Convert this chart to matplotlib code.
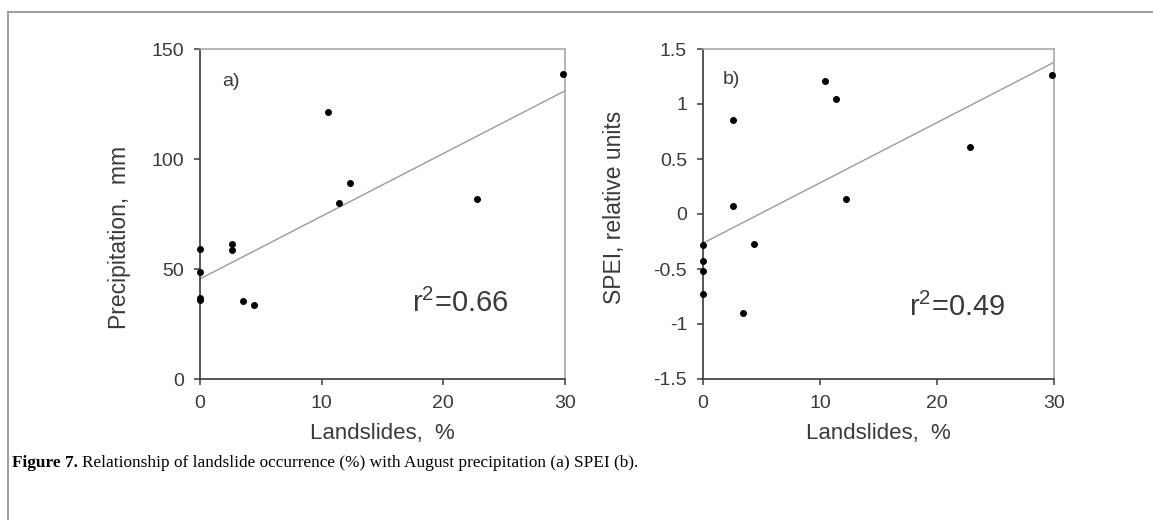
import numpy as np
import matplotlib
matplotlib.use('Agg')
import matplotlib.pyplot as plt
from matplotlib.lines import Line2D

plt.rcParams['font.family'] = ['Liberation Sans', 'DejaVu Sans']
plt.rcParams['axes.unicode_minus'] = False

# landslide share (%) per year
prec_x = [0, 0, 0, 0, 2.6, 2.6, 3.5, 4.4, 10.5, 11.4, 12.3, 22.8, 29.8]
# August precipitation, mm
prec_y = [59.0, 48.6, 36.8, 36.0, 61.2, 58.6, 35.5, 33.8, 121.2, 80.1, 89.0, 81.8, 138.8]
prec_fit = [45.5, 2.85]   # intercept, slope

spei_x = [0, 0, 0, 0, 2.56, 2.56, 3.42, 4.4, 10.45, 11.37, 12.25, 22.8, 29.8]
spei_y = [-0.285, -0.43, -0.52, -0.73, 0.857, 0.069, -0.90, -0.27, 1.21, 1.05, 0.136, 0.608, 1.26]
spei_fit = [-0.265, 0.0548]

x_ticks = [0, 10, 20, 30]
prec_ticks = [0, 50, 100, 150]
spei_ticks = [-1.5, -1, -0.5, 0, 0.5, 1, 1.5]
spei_ticklabels = ['-1.5', '-1', '-0.5', '0', '0.5', '1', '1.5']

dark = '#3a3a3a'
light = '#a8a8a8'


def style_axes(ax):
    ax.spines['left'].set_color(dark)
    ax.spines['bottom'].set_color(dark)
    ax.spines['top'].set_color(light)
    ax.spines['right'].set_color(light)
    for s in ax.spines.values():
        s.set_linewidth(1.2)
    ax.tick_params(direction='out', length=4.5, width=1.1, color=dark,
                   labelsize=14, labelcolor=dark, pad=7, top=False, right=False)
    ax.set_xlim(0, 30)
    ax.set_xticks(x_ticks)
    ax.set_xlabel('Landslides,  %', fontsize=16, color=dark, labelpad=8)


fig = plt.figure(figsize=(11.53, 5.2), dpi=100)

# left panel: precipitation
ax1 = fig.add_axes([200 / 1153, 141 / 520, 365 / 1153, 330 / 520])
style_axes(ax1)
ax1.set_ylim(0, 150)
ax1.set_yticks(prec_ticks)
xx = np.array([0, 30])
ax1.plot(xx, prec_fit[0] + prec_fit[1] * xx, color='#9a9a9a', lw=1.0, clip_on=False)
ax1.scatter(prec_x, prec_y, s=16, color='black', zorder=3, clip_on=False)
ax1.set_ylabel('Precipitation,  mm', fontsize=16.5, color=dark)
ax1.yaxis.set_label_coords(-0.19, 0.43)
ax1.text(0.06, 0.903, 'a)', transform=ax1.transAxes, fontsize=14, color=dark, va='center')
ax1.text(0.712, 0.23, r'r$^{\mathregular{2}}$=0.66', transform=ax1.transAxes,
         fontsize=21, color=dark, ha='center', va='center')

# right panel: SPEI
ax2 = fig.add_axes([703 / 1153, 141 / 520, 351 / 1153, 330 / 520])
style_axes(ax2)
ax2.set_ylim(-1.5, 1.5)
ax2.set_yticks(spei_ticks)
ax2.set_yticklabels(spei_ticklabels)
ax2.plot(xx, spei_fit[0] + spei_fit[1] * xx, color='#9a9a9a', lw=1.0, clip_on=False)
ax2.scatter(spei_x, spei_y, s=16, color='black', zorder=3, clip_on=False)
ax2.set_ylabel('SPEI, relative units', fontsize=16.5, color=dark)
ax2.yaxis.set_label_coords(-0.22, 0.52)
ax2.text(0.057, 0.909, 'b)', transform=ax2.transAxes, fontsize=14, color=dark, va='center')
ax2.text(0.724, 0.218, r'r$^{\mathregular{2}}$=0.49', transform=ax2.transAxes,
         fontsize=21, color=dark, ha='center', va='center')

# page frame (top and left edges)
fig.add_artist(Line2D([8 / 1153, 1], [1 - 12 / 520, 1 - 12 / 520], transform=fig.transFigure,
                      color='#8c8c8c', lw=1.2))
fig.add_artist(Line2D([8 / 1153, 8 / 1153], [0, 1 - 12 / 520], transform=fig.transFigure,
                      color='#8c8c8c', lw=1.2))

# caption
cap_y = 1 - 463 / 520
t1 = fig.text(12 / 1153, cap_y, 'Figure 7.', fontsize=12.4, fontweight='bold',
              family='Liberation Serif', va='center')
fig.canvas.draw()
bb = t1.get_window_extent(fig.canvas.get_renderer())
fig.text(bb.x1 / 1153 + 4 / 1153, cap_y,
         'Relationship of landslide occurrence (%) with August precipitation (a) SPEI (b).',
         fontsize=12.4, family='Liberation Serif', va='center')

fig.savefig('out.png', dpi=100)
